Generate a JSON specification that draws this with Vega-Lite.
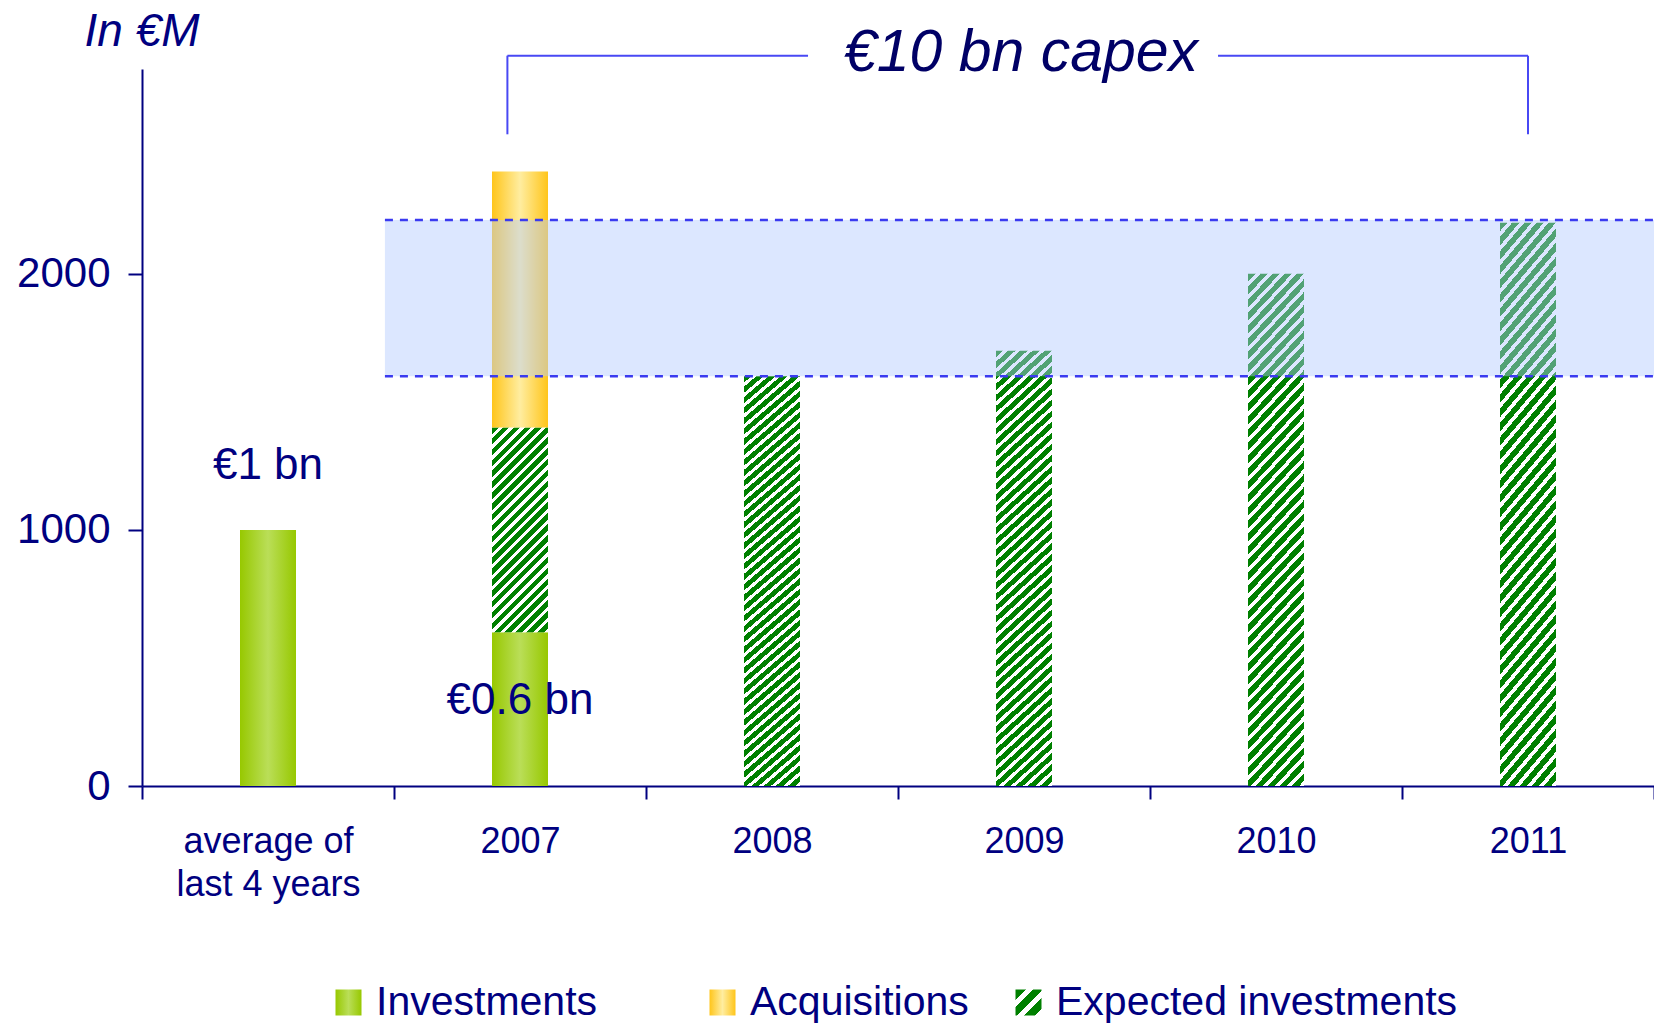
{
  "$schema": "https://vega.github.io/schema/vega-lite/v6.json",
  "width": 1512,
  "height": 717,
  "autosize": {"type": "none"},
  "padding": {"left": 142, "top": 69, "right": 0, "bottom": 239},
  "background": "white",
  "config": {
    "view": {"stroke": null},
    "font": "Liberation Sans",
    "axis": {"domainColor": "#000080", "domainWidth": 2, "tickColor": "#000080", "tickWidth": 2, "labelColor": "#000080", "labelFont": "Liberation Sans", "grid": false},
    "legend": {"title": null, "orient": "none", "direction": "horizontal", "symbolSize": 676, "symbolStrokeWidth": 0, "symbolOpacity": 1, "labelFontSize": 41, "labelColor": "#000080", "labelFont": "Liberation Sans", "labelOffset": 7, "labelLimit": 600}
  },
  "datasets": {
    "bars": [
      {"cat": "average of last 4 years", "type": "Investments", "seg": 1, "value": 1000},
      {"cat": "2007", "type": "Investments", "seg": 1, "value": 600},
      {"cat": "2007", "type": "Expected investments", "seg": 2, "value": 800},
      {"cat": "2007", "type": "Acquisitions", "seg": 3, "value": 1000},
      {"cat": "2008", "type": "Expected investments", "seg": 2, "value": 1600},
      {"cat": "2009", "type": "Expected investments", "seg": 2, "value": 1700},
      {"cat": "2010", "type": "Expected investments", "seg": 2, "value": 2000},
      {"cat": "2011", "type": "Expected investments", "seg": 2, "value": 2200}
    ],
    "labels": [
      {"cat": "average of last 4 years", "y": 1251, "text": "€1 bn"},
      {"cat": "2007", "y": 330, "text": "€0.6 bn"}
    ],
    "band": [{"x0": 0.964, "x1": 6, "lo": 1600, "hi": 2210}],
    "dash": [{"x0": 0.964, "x1": 6, "y": 1600}, {"x0": 0.964, "x1": 6, "y": 2210}],
    "bracketH": [{"x0": 1.45, "x1": 2.643, "y": 2852}, {"x0": 4.27, "x1": 5.5, "y": 2852}],
    "bracketV": [{"x": 1.45, "y0": 2545, "y1": 2852}, {"x": 5.5, "y0": 2545, "y1": 2852}],
    "notes": [{"x": 3.488, "y": 2862, "text": "€10 bn capex"}],
    "unit": [{"x": 0, "y": 2945, "text": "In €M"}]
  },
  "layer": [
    {
      "layer": [
        {
          "data": {"name": "bars"},
          "mark": {"type": "bar", "size": 56},
          "encoding": {
            "x": {
              "field": "cat", "type": "nominal",
              "scale": {"domain": ["average of last 4 years", "2007", "2008", "2009", "2010", "2011"], "paddingInner": 0, "paddingOuter": 0},
              "axis": {"title": null, "labelAngle": 0, "labelFontSize": 36, "tickSize": 13, "labelPadding": 25, "tickBand": "extent", "labelLineHeight": 43, "labelLimit": 400,
                "labelExpr": "datum.value === 'average of last 4 years' ? ['average of', 'last 4 years'] : datum.label"}
            },
            "y": {
              "field": "value", "type": "quantitative", "stack": "zero",
              "scale": {"domain": [0, 2800], "nice": false},
              "axis": {"title": null, "values": [0, 1000, 2000], "format": "d", "tickSize": 14, "labelFontSize": 42, "labelPadding": 18}
            },
            "order": {"field": "seg", "type": "quantitative"},
            "fill": {
              "condition": [
                {"test": "datum.type === 'Investments'", "value": {"gradient": "linear", "x1": 0, "y1": 0, "x2": 1, "y2": 0, "stops": [{"offset": 0, "color": "#97c800"}, {"offset": 0.5, "color": "#bade58"}, {"offset": 1, "color": "#97c800"}]}},
                {"test": "datum.type === 'Acquisitions'", "value": {"gradient": "linear", "x1": 0, "y1": 0, "x2": 1, "y2": 0, "stops": [{"offset": 0, "color": "#ffc51a"}, {"offset": 0.5, "color": "#ffeda0"}, {"offset": 1, "color": "#ffc51a"}]}},
                {"test": "datum.cat === '2007'", "value": {"gradient": "linear", "x1": 0, "y1": 0, "x2": 0.324, "y2": 1.185, "stops": [
{"offset":0,"color":"green"},{"offset":0.025,"color":"green"},{"offset":0.025,"color":"white"},{"offset":0.04167,"color":"white"},
{"offset":0.04167,"color":"green"},{"offset":0.06667,"color":"green"},{"offset":0.06667,"color":"white"},{"offset":0.08333,"color":"white"},
{"offset":0.08333,"color":"green"},{"offset":0.10833,"color":"green"},{"offset":0.10833,"color":"white"},{"offset":0.125,"color":"white"},
{"offset":0.125,"color":"green"},{"offset":0.15,"color":"green"},{"offset":0.15,"color":"white"},{"offset":0.16667,"color":"white"},
{"offset":0.16667,"color":"green"},{"offset":0.19167,"color":"green"},{"offset":0.19167,"color":"white"},{"offset":0.20833,"color":"white"},
{"offset":0.20833,"color":"green"},{"offset":0.23333,"color":"green"},{"offset":0.23333,"color":"white"},{"offset":0.25,"color":"white"},
{"offset":0.25,"color":"green"},{"offset":0.275,"color":"green"},{"offset":0.275,"color":"white"},{"offset":0.29167,"color":"white"},
{"offset":0.29167,"color":"green"},{"offset":0.31667,"color":"green"},{"offset":0.31667,"color":"white"},{"offset":0.33333,"color":"white"},
{"offset":0.33333,"color":"green"},{"offset":0.35833,"color":"green"},{"offset":0.35833,"color":"white"},{"offset":0.375,"color":"white"},
{"offset":0.375,"color":"green"},{"offset":0.4,"color":"green"},{"offset":0.4,"color":"white"},{"offset":0.41667,"color":"white"},
{"offset":0.41667,"color":"green"},{"offset":0.44167,"color":"green"},{"offset":0.44167,"color":"white"},{"offset":0.45833,"color":"white"},
{"offset":0.45833,"color":"green"},{"offset":0.48333,"color":"green"},{"offset":0.48333,"color":"white"},{"offset":0.5,"color":"white"},
{"offset":0.5,"color":"green"},{"offset":0.525,"color":"green"},{"offset":0.525,"color":"white"},{"offset":0.54167,"color":"white"},
{"offset":0.54167,"color":"green"},{"offset":0.56667,"color":"green"},{"offset":0.56667,"color":"white"},{"offset":0.58333,"color":"white"},
{"offset":0.58333,"color":"green"},{"offset":0.60833,"color":"green"},{"offset":0.60833,"color":"white"},{"offset":0.625,"color":"white"},
{"offset":0.625,"color":"green"},{"offset":0.65,"color":"green"},{"offset":0.65,"color":"white"},{"offset":0.66667,"color":"white"},
{"offset":0.66667,"color":"green"},{"offset":0.69167,"color":"green"},{"offset":0.69167,"color":"white"},{"offset":0.70833,"color":"white"},
{"offset":0.70833,"color":"green"},{"offset":0.73333,"color":"green"},{"offset":0.73333,"color":"white"},{"offset":0.75,"color":"white"},
{"offset":0.75,"color":"green"},{"offset":0.775,"color":"green"},{"offset":0.775,"color":"white"},{"offset":0.79167,"color":"white"},
{"offset":0.79167,"color":"green"},{"offset":0.81667,"color":"green"},{"offset":0.81667,"color":"white"},{"offset":0.83333,"color":"white"},
{"offset":0.83333,"color":"green"},{"offset":0.85833,"color":"green"},{"offset":0.85833,"color":"white"},{"offset":0.875,"color":"white"},
{"offset":0.875,"color":"green"},{"offset":0.9,"color":"green"},{"offset":0.9,"color":"white"},{"offset":0.91667,"color":"white"},
{"offset":0.91667,"color":"green"},{"offset":0.94167,"color":"green"},{"offset":0.94167,"color":"white"},{"offset":0.95833,"color":"white"},
{"offset":0.95833,"color":"green"},{"offset":0.98333,"color":"green"},{"offset":0.98333,"color":"white"},{"offset":1,"color":"white"}
                ]}}
              ],
              "value": {"gradient": "linear", "x1": 0, "y1": 0, "x2": 0.129, "y2": 1.102, "stops": [
{"offset":0,"color":"green"},{"offset":0.01364,"color":"green"},{"offset":0.01364,"color":"white"},{"offset":0.02273,"color":"white"},
{"offset":0.02273,"color":"green"},{"offset":0.03636,"color":"green"},{"offset":0.03636,"color":"white"},{"offset":0.04545,"color":"white"},
{"offset":0.04545,"color":"green"},{"offset":0.05909,"color":"green"},{"offset":0.05909,"color":"white"},{"offset":0.06818,"color":"white"},
{"offset":0.06818,"color":"green"},{"offset":0.08182,"color":"green"},{"offset":0.08182,"color":"white"},{"offset":0.09091,"color":"white"},
{"offset":0.09091,"color":"green"},{"offset":0.10455,"color":"green"},{"offset":0.10455,"color":"white"},{"offset":0.11364,"color":"white"},
{"offset":0.11364,"color":"green"},{"offset":0.12727,"color":"green"},{"offset":0.12727,"color":"white"},{"offset":0.13636,"color":"white"},
{"offset":0.13636,"color":"green"},{"offset":0.15,"color":"green"},{"offset":0.15,"color":"white"},{"offset":0.15909,"color":"white"},
{"offset":0.15909,"color":"green"},{"offset":0.17273,"color":"green"},{"offset":0.17273,"color":"white"},{"offset":0.18182,"color":"white"},
{"offset":0.18182,"color":"green"},{"offset":0.19545,"color":"green"},{"offset":0.19545,"color":"white"},{"offset":0.20455,"color":"white"},
{"offset":0.20455,"color":"green"},{"offset":0.21818,"color":"green"},{"offset":0.21818,"color":"white"},{"offset":0.22727,"color":"white"},
{"offset":0.22727,"color":"green"},{"offset":0.24091,"color":"green"},{"offset":0.24091,"color":"white"},{"offset":0.25,"color":"white"},
{"offset":0.25,"color":"green"},{"offset":0.26364,"color":"green"},{"offset":0.26364,"color":"white"},{"offset":0.27273,"color":"white"},
{"offset":0.27273,"color":"green"},{"offset":0.28636,"color":"green"},{"offset":0.28636,"color":"white"},{"offset":0.29545,"color":"white"},
{"offset":0.29545,"color":"green"},{"offset":0.30909,"color":"green"},{"offset":0.30909,"color":"white"},{"offset":0.31818,"color":"white"},
{"offset":0.31818,"color":"green"},{"offset":0.33182,"color":"green"},{"offset":0.33182,"color":"white"},{"offset":0.34091,"color":"white"},
{"offset":0.34091,"color":"green"},{"offset":0.35455,"color":"green"},{"offset":0.35455,"color":"white"},{"offset":0.36364,"color":"white"},
{"offset":0.36364,"color":"green"},{"offset":0.37727,"color":"green"},{"offset":0.37727,"color":"white"},{"offset":0.38636,"color":"white"},
{"offset":0.38636,"color":"green"},{"offset":0.4,"color":"green"},{"offset":0.4,"color":"white"},{"offset":0.40909,"color":"white"},
{"offset":0.40909,"color":"green"},{"offset":0.42273,"color":"green"},{"offset":0.42273,"color":"white"},{"offset":0.43182,"color":"white"},
{"offset":0.43182,"color":"green"},{"offset":0.44545,"color":"green"},{"offset":0.44545,"color":"white"},{"offset":0.45455,"color":"white"},
{"offset":0.45455,"color":"green"},{"offset":0.46818,"color":"green"},{"offset":0.46818,"color":"white"},{"offset":0.47727,"color":"white"},
{"offset":0.47727,"color":"green"},{"offset":0.49091,"color":"green"},{"offset":0.49091,"color":"white"},{"offset":0.5,"color":"white"},
{"offset":0.5,"color":"green"},{"offset":0.51364,"color":"green"},{"offset":0.51364,"color":"white"},{"offset":0.52273,"color":"white"},
{"offset":0.52273,"color":"green"},{"offset":0.53636,"color":"green"},{"offset":0.53636,"color":"white"},{"offset":0.54545,"color":"white"},
{"offset":0.54545,"color":"green"},{"offset":0.55909,"color":"green"},{"offset":0.55909,"color":"white"},{"offset":0.56818,"color":"white"},
{"offset":0.56818,"color":"green"},{"offset":0.58182,"color":"green"},{"offset":0.58182,"color":"white"},{"offset":0.59091,"color":"white"},
{"offset":0.59091,"color":"green"},{"offset":0.60455,"color":"green"},{"offset":0.60455,"color":"white"},{"offset":0.61364,"color":"white"},
{"offset":0.61364,"color":"green"},{"offset":0.62727,"color":"green"},{"offset":0.62727,"color":"white"},{"offset":0.63636,"color":"white"},
{"offset":0.63636,"color":"green"},{"offset":0.65,"color":"green"},{"offset":0.65,"color":"white"},{"offset":0.65909,"color":"white"},
{"offset":0.65909,"color":"green"},{"offset":0.67273,"color":"green"},{"offset":0.67273,"color":"white"},{"offset":0.68182,"color":"white"},
{"offset":0.68182,"color":"green"},{"offset":0.69545,"color":"green"},{"offset":0.69545,"color":"white"},{"offset":0.70455,"color":"white"},
{"offset":0.70455,"color":"green"},{"offset":0.71818,"color":"green"},{"offset":0.71818,"color":"white"},{"offset":0.72727,"color":"white"},
{"offset":0.72727,"color":"green"},{"offset":0.74091,"color":"green"},{"offset":0.74091,"color":"white"},{"offset":0.75,"color":"white"},
{"offset":0.75,"color":"green"},{"offset":0.76364,"color":"green"},{"offset":0.76364,"color":"white"},{"offset":0.77273,"color":"white"},
{"offset":0.77273,"color":"green"},{"offset":0.78636,"color":"green"},{"offset":0.78636,"color":"white"},{"offset":0.79545,"color":"white"},
{"offset":0.79545,"color":"green"},{"offset":0.80909,"color":"green"},{"offset":0.80909,"color":"white"},{"offset":0.81818,"color":"white"},
{"offset":0.81818,"color":"green"},{"offset":0.83182,"color":"green"},{"offset":0.83182,"color":"white"},{"offset":0.84091,"color":"white"},
{"offset":0.84091,"color":"green"},{"offset":0.85455,"color":"green"},{"offset":0.85455,"color":"white"},{"offset":0.86364,"color":"white"},
{"offset":0.86364,"color":"green"},{"offset":0.87727,"color":"green"},{"offset":0.87727,"color":"white"},{"offset":0.88636,"color":"white"},
{"offset":0.88636,"color":"green"},{"offset":0.9,"color":"green"},{"offset":0.9,"color":"white"},{"offset":0.90909,"color":"white"},
{"offset":0.90909,"color":"green"},{"offset":0.92273,"color":"green"},{"offset":0.92273,"color":"white"},{"offset":0.93182,"color":"white"},
{"offset":0.93182,"color":"green"},{"offset":0.94545,"color":"green"},{"offset":0.94545,"color":"white"},{"offset":0.95455,"color":"white"},
{"offset":0.95455,"color":"green"},{"offset":0.96818,"color":"green"},{"offset":0.96818,"color":"white"},{"offset":0.97727,"color":"white"},
{"offset":0.97727,"color":"green"},{"offset":0.99091,"color":"green"},{"offset":0.99091,"color":"white"},{"offset":1,"color":"white"}
              ]}
            }
          }
        },
        {
          "data": {"name": "bars"},
          "transform": [{"filter": "datum.type === 'Investments'"}],
          "mark": {"type": "point", "opacity": 0, "filled": true, "fill": {"gradient": "linear", "x1": 0, "y1": 0, "x2": 1, "y2": 0, "stops": [{"offset": 0, "color": "#97c800"}, {"offset": 0.5, "color": "#bade58"}, {"offset": 1, "color": "#97c800"}]}},
          "encoding": {
            "x": {"field": "cat", "type": "nominal", "scale": {"domain": ["average of last 4 years", "2007", "2008", "2009", "2010", "2011"], "paddingInner": 0, "paddingOuter": 0}},
            "y": {"field": "value", "type": "quantitative", "scale": {"domain": [0, 2800], "nice": false}, "title": null},
            "shape": {"field": "type", "type": "nominal", "scale": {"domain": ["Investments"], "range": ["square"]}, "legend": {"legendX": 186, "legendY": 913}}
          }
        },
        {
          "data": {"name": "bars"},
          "transform": [{"filter": "datum.type === 'Acquisitions'"}],
          "mark": {"type": "point", "opacity": 0, "filled": true, "fill": {"gradient": "linear", "x1": 0, "y1": 0, "x2": 1, "y2": 0, "stops": [{"offset": 0, "color": "#ffc51a"}, {"offset": 0.5, "color": "#ffeda0"}, {"offset": 1, "color": "#ffc51a"}]}},
          "encoding": {
            "x": {"field": "cat", "type": "nominal", "scale": {"domain": ["average of last 4 years", "2007", "2008", "2009", "2010", "2011"], "paddingInner": 0, "paddingOuter": 0}},
            "y": {"field": "value", "type": "quantitative", "scale": {"domain": [0, 2800], "nice": false}, "title": null},
            "shape": {"field": "type", "type": "nominal", "scale": {"domain": ["Acquisitions"], "range": ["square"]}, "legend": {"legendX": 560, "legendY": 913}}
          }
        },
        {
          "data": {"name": "bars"},
          "transform": [{"filter": "datum.type === 'Expected investments'"}],
          "mark": {"type": "point", "opacity": 0, "filled": true, "fill": {"gradient": "linear", "x1": 0, "y1": 0, "x2": 1, "y2": 1, "stops": [
            {"offset":0,"color":"green"},{"offset":0.2,"color":"green"},{"offset":0.2,"color":"white"},{"offset":0.333,"color":"white"},
            {"offset":0.333,"color":"green"},{"offset":0.533,"color":"green"},{"offset":0.533,"color":"white"},{"offset":0.667,"color":"white"},
            {"offset":0.667,"color":"green"},{"offset":0.867,"color":"green"},{"offset":0.867,"color":"white"},{"offset":1,"color":"white"}]}},
          "encoding": {
            "x": {"field": "cat", "type": "nominal", "scale": {"domain": ["average of last 4 years", "2007", "2008", "2009", "2010", "2011"], "paddingInner": 0, "paddingOuter": 0}},
            "y": {"field": "value", "type": "quantitative", "scale": {"domain": [0, 2800], "nice": false}, "title": null},
            "shape": {"field": "type", "type": "nominal", "scale": {"domain": ["Expected investments"], "range": ["square"]}, "legend": {"legendX": 866, "legendY": 913}}
          }
        },
        {
          "data": {"name": "labels"},
          "mark": {"type": "text", "fontSize": 44, "color": "#000080", "align": "center", "baseline": "middle", "font": "Liberation Sans"},
          "encoding": {
            "x": {"field": "cat", "type": "nominal", "scale": {"domain": ["average of last 4 years", "2007", "2008", "2009", "2010", "2011"], "paddingInner": 0, "paddingOuter": 0}},
            "y": {"field": "y", "type": "quantitative", "scale": {"domain": [0, 2800], "nice": false}, "title": null},
            "text": {"field": "text"}
          }
        }
      ],
      "resolve": {"scale": {"shape": "independent"}, "legend": {"shape": "independent"}}
    },
    {
      "layer": [
        {
          "data": {"name": "band"},
          "mark": {"type": "rect", "color": "#b3cbff", "opacity": 0.46},
          "encoding": {
            "x": {"field": "x0", "type": "quantitative", "scale": {"domain": [0, 6], "nice": false, "zero": false}, "axis": null},
            "x2": {"field": "x1"},
            "y": {"field": "lo", "type": "quantitative", "scale": {"domain": [0, 2800], "nice": false}, "title": null},
            "y2": {"field": "hi"}
          }
        },
        {
          "data": {"name": "dash"},
          "mark": {"type": "rule", "color": "#3a3af0", "strokeWidth": 2.5, "strokeDash": [8, 7]},
          "encoding": {
            "x": {"field": "x0", "type": "quantitative", "scale": {"domain": [0, 6], "nice": false, "zero": false}, "axis": null},
            "x2": {"field": "x1"},
            "y": {"field": "y", "type": "quantitative", "scale": {"domain": [0, 2800], "nice": false}, "title": null}
          }
        },
        {
          "data": {"name": "bracketH"},
          "mark": {"type": "rule", "color": "#4848f4", "strokeWidth": 2},
          "encoding": {
            "x": {"field": "x0", "type": "quantitative", "scale": {"domain": [0, 6], "nice": false, "zero": false}, "axis": null},
            "x2": {"field": "x1"},
            "y": {"field": "y", "type": "quantitative", "scale": {"domain": [0, 2800], "nice": false}, "title": null}
          }
        },
        {
          "data": {"name": "bracketV"},
          "mark": {"type": "rule", "color": "#4848f4", "strokeWidth": 2},
          "encoding": {
            "x": {"field": "x", "type": "quantitative", "scale": {"domain": [0, 6], "nice": false, "zero": false}, "axis": null},
            "y": {"field": "y0", "type": "quantitative", "scale": {"domain": [0, 2800], "nice": false}, "title": null},
            "y2": {"field": "y1"}
          }
        },
        {
          "data": {"name": "notes"},
          "mark": {"type": "text", "fontSize": 59, "fontStyle": "italic", "color": "#000066", "align": "center", "baseline": "middle", "font": "Liberation Sans"},
          "encoding": {
            "x": {"field": "x", "type": "quantitative", "scale": {"domain": [0, 6], "nice": false, "zero": false}, "axis": null},
            "y": {"field": "y", "type": "quantitative", "scale": {"domain": [0, 2800], "nice": false}, "title": null},
            "text": {"field": "text"}
          }
        },
        {
          "data": {"name": "unit"},
          "mark": {"type": "text", "fontSize": 46, "fontStyle": "italic", "color": "#000080", "align": "center", "baseline": "middle", "font": "Liberation Sans"},
          "encoding": {
            "x": {"field": "x", "type": "quantitative", "scale": {"domain": [0, 6], "nice": false, "zero": false}, "axis": null},
            "y": {"field": "y", "type": "quantitative", "scale": {"domain": [0, 2800], "nice": false}, "title": null},
            "text": {"field": "text"}
          }
        }
      ]
    }
  ],
  "resolve": {"scale": {"x": "independent"}, "axis": {"x": "independent"}}
}
